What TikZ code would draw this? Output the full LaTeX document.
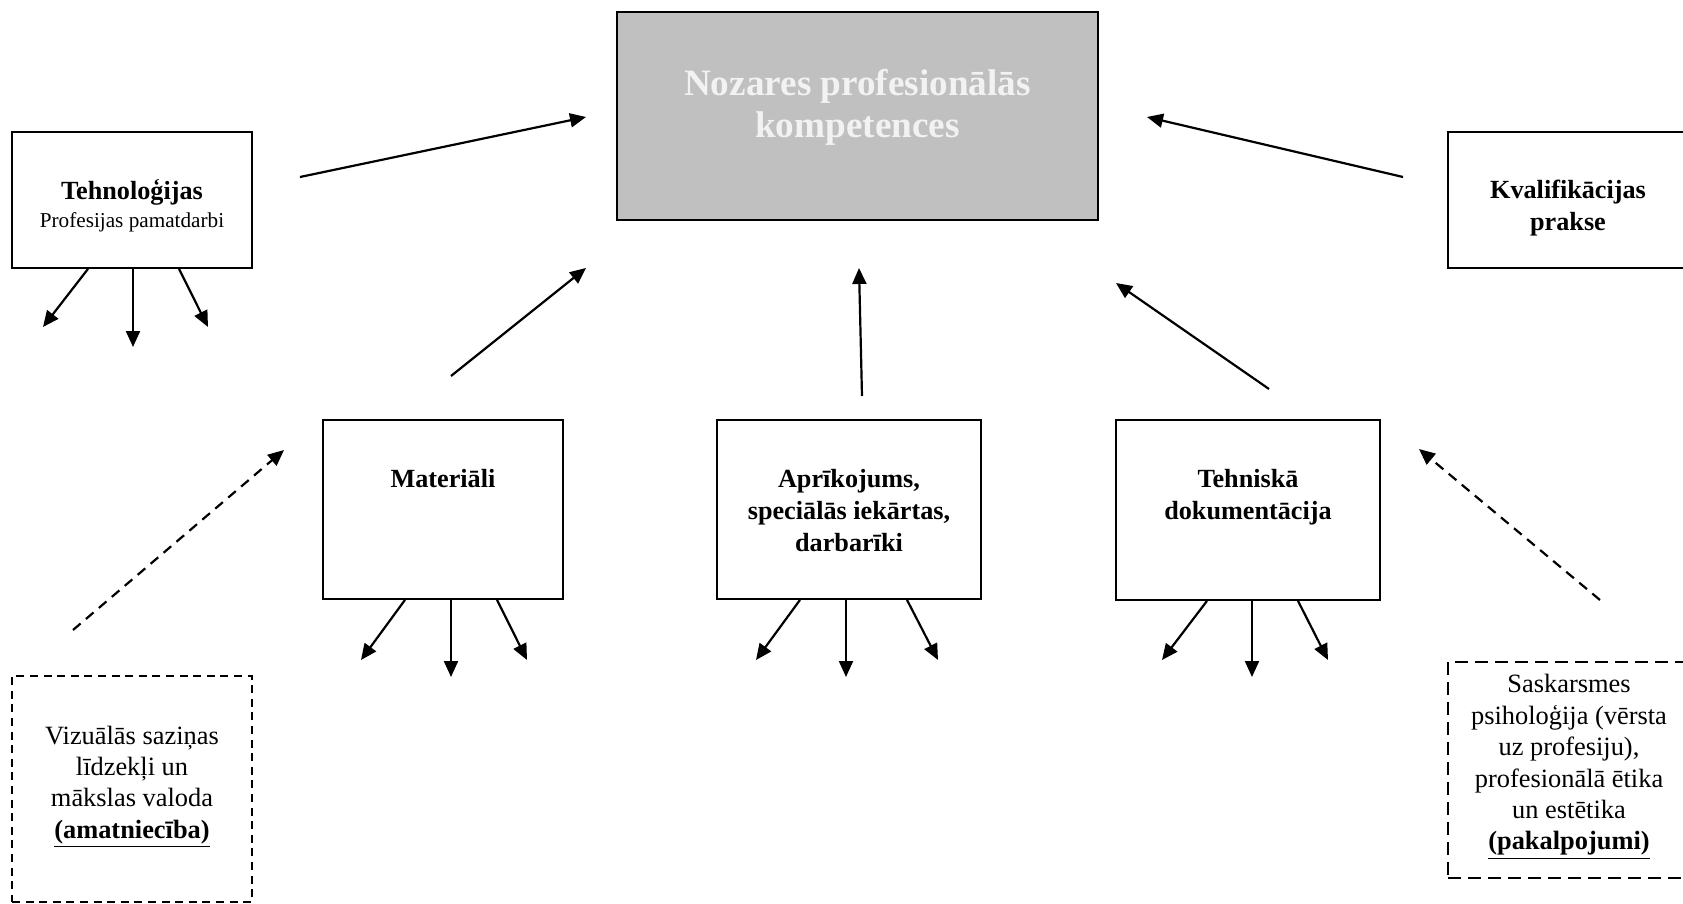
\documentclass[tikz,border=0pt]{standalone}
\usepackage{fontspec}
\setmainfont{Liberation Serif}
\usetikzlibrary{positioning,arrows.meta}

\definecolor{boxgray}{HTML}{C0C0C0}
\definecolor{titlegray}{HTML}{F2F2F2}

\tikzset{
    plainbox/.style={draw, line width=0.9pt, inner sep=0pt},
    dashbox/.style={plainbox, dash pattern=on 4pt off 2.8pt},
    titletxt/.style={font=\fontsize{18.6}{21}\selectfont\bfseries, text=titlegray, align=center, inner sep=0pt},
    headtxt/.style={font=\fontsize{13.1}{16}\selectfont\bfseries, align=center, inner sep=0pt},
    bodytxt/.style={font=\fontsize{13.2}{15.7}\selectfont, align=center, inner sep=0pt},
    arr/.style={-{Triangle[length=8pt,width=7pt]}, line width=1.1pt},
    dasharr/.style={arr, dash pattern=on 5pt off 3.5pt}
}

\begin{document}
\begin{tikzpicture}[x=0.5pt, y=-0.5pt]
    \useasboundingbox (0,0) rectangle (1683,904);

    % define boxes
    \node[plainbox, fill=boxgray, minimum width=240.5pt, minimum height=104pt] (comp) at (857.5,116) {};
    \node[plainbox, minimum width=120pt, minimum height=68pt] (tech) at (132,200) {};
    \node[plainbox, minimum width=120pt, minimum height=68pt] (qual) at (1568,200) {};
    \node[plainbox, minimum width=120pt, minimum height=89.5pt] (mat) at (443,509.5) {};
    \node[plainbox, minimum width=132pt, minimum height=89.5pt] (apr) at (849,509.5) {};
    \node[plainbox, minimum width=132pt, minimum height=90pt] (doc) at (1248,510) {};
    \node[dashbox, minimum width=120pt, minimum height=113pt] (vis) at (132,789) {};
    \node[dashbox, dash pattern=on 6.5pt off 3.5pt, minimum width=121pt, minimum height=108pt] (psy) at (1569,770) {};

    % texts
    \node[titletxt] (comp-t) at ([yshift=4.5pt]comp.center) {Nozares profesionālās\\kompetences};
    \node[align=center, inner sep=0pt, font=\fontsize{10.6}{14}\selectfont] (tech-t) at ([yshift=-2.75pt]tech.center)
        {{\bfseries\fontsize{13.1}{14}\selectfont Tehnoloģijas}\\Profesijas pamatdarbi};
    \node[headtxt] (qual-t) at ([yshift=-4pt]qual.center) {Kvalifikācijas\\prakse};
    \node[headtxt, below=25pt of mat.north] (mat-t) {Materiāli};
    \node[headtxt, below=25pt of apr.north] (apr-t) {Aprīkojums,\\speciālās iekārtas,\\darbarīki};
    \node[headtxt, below=25pt of doc.north] (doc-t) {Tehniskā\\dokumentācija};
    \node[bodytxt] (vis-t) at ([yshift=1.1pt]vis.center)
        {Vizuālās saziņas\\līdzekļi un\\mākslas valoda\\\underline{\textbf{(amatniecība)}}};
    \node[bodytxt] (psy-t) at ([yshift=1.5pt]psy.center)
        {Saskarsmes\\psiholoģija (vērsta\\uz profesiju),\\profesionālā ētika\\un estētika\\\underline{\textbf{(pakalpojumi)}}};

    % free arrow ends
    \coordinate (tech-in) at (300,177);
    \coordinate (comp-w) at (586,117);
    \coordinate (qual-in) at (1403,177);
    \coordinate (comp-e) at (1147,117);
    \coordinate (mat-up) at (451,376);
    \coordinate (comp-sw) at (586,268);
    \coordinate (apr-up) at (862,396);
    \coordinate (comp-s) at (859,268);
    \coordinate (doc-up) at (1269,389);
    \coordinate (comp-se) at (1116,283);
    \coordinate (vis-up) at (73,630);
    \coordinate (mat-sw) at (284,450);
    \coordinate (psy-up) at (1600,600);
    \coordinate (doc-se) at (1419,449);

    \coordinate (tech-a) at (43,327);
    \coordinate (tech-b) at (133,347);
    \coordinate (tech-c) at (208,327);
    \coordinate (mat-a) at (361,660);
    \coordinate (mat-b) at (451,677);
    \coordinate (mat-c) at (527,660);
    \coordinate (apr-a) at (756,660);
    \coordinate (apr-b) at (846,677);
    \coordinate (apr-c) at (938,660);
    \coordinate (doc-a) at (1162,660);
    \coordinate (doc-b) at (1252,677);
    \coordinate (doc-c) at (1328,660);

    % connect
    \draw[arr] (tech-in) -- (comp-w);
    \draw[arr] (qual-in) -- (comp-e);
    \draw[arr] (mat-up) -- (comp-sw);
    \draw[arr] (apr-up) -- (comp-s);
    \draw[arr] (doc-up) -- (comp-se);
    \draw[dasharr] (vis-up) -- (mat-sw);
    \draw[dasharr] (psy-up) -- (doc-se);

    % outgoing arrows under the boxes
    \draw[arr] ([xshift=-22pt]tech.south) -- (tech-a);
    \draw[arr] ([xshift=0.5pt]tech.south) -- (tech-b);
    \draw[arr] ([xshift=23.5pt]tech.south) -- (tech-c);
    \draw[arr] ([xshift=-19pt]mat.south) -- (mat-a);
    \draw[arr] ([xshift=4pt]mat.south) -- (mat-b);
    \draw[arr] ([xshift=27pt]mat.south) -- (mat-c);
    \draw[arr] ([xshift=-24.5pt]apr.south) -- (apr-a);
    \draw[arr] ([xshift=-1.5pt]apr.south) -- (apr-b);
    \draw[arr] ([xshift=29pt]apr.south) -- (apr-c);
    \draw[arr] ([xshift=-20.5pt]doc.south) -- (doc-a);
    \draw[arr] ([xshift=2pt]doc.south) -- (doc-b);
    \draw[arr] ([xshift=25pt]doc.south) -- (doc-c);

\end{tikzpicture}
\end{document}
